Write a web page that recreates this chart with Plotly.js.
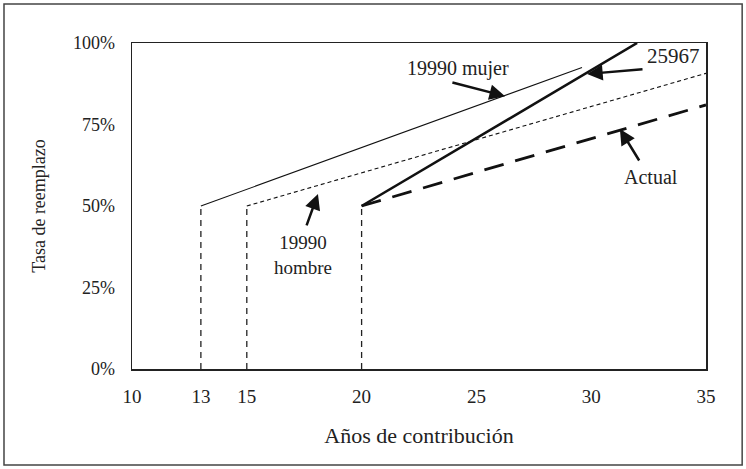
<!DOCTYPE html>
<html>
<head>
<meta charset="utf-8">
<script src="https://cdn.plot.ly/plotly-3.0.1.min.js"></script>
<style>
html,body{margin:0;padding:0;background:#fff;}
#chart{width:746px;height:469px;}
</style>
</head>
<body>
<div id="chart"></div>
<script>
// Data (años de contribución, tasa de reemplazo %)
const mujerX = [13, 29.6];
const mujerY = [50, 92.5];
const hombreX = [15, 35];
const hombreY = [50, 90.7];
const ley25967X = [20, 32];
const ley25967Y = [50, 100];
const actualX = [20, 35];
const actualY = [50, 81];
const verticalX = [13, 15, 20];
const verticalTop = [50, 50, 50];
const xTicks = [10, 13, 15, 20, 25, 30, 35];
const yTicks = [0, 25, 50, 75, 100];

const traces = [];
verticalX.forEach((v, i) => {
  traces.push({x: [v, v], y: [0, verticalTop[i]], mode: 'lines', cliponaxis: false,
    line: {color: '#222', width: 1.3, dash: '6px,5px'}, hoverinfo: 'skip'});
});
traces.push({x: mujerX, y: mujerY, mode: 'lines', cliponaxis: false, line: {color: '#111', width: 1.1}});
traces.push({x: hombreX, y: hombreY, mode: 'lines', cliponaxis: false, line: {color: '#111', width: 1.1, dash: '4px,3px'}});
traces.push({x: ley25967X, y: ley25967Y, mode: 'lines', cliponaxis: false, line: {color: '#111', width: 2.6}});
traces.push({x: actualX, y: actualY, mode: 'lines', cliponaxis: false, line: {color: '#111', width: 2.8, dash: '20px,12px'}});

const font = 'Liberation Serif';
function arrow(hx, hy, tx, ty) {
  return {x: hx, y: hy, ax: tx, ay: ty, xref: 'x', yref: 'y', axref: 'x', ayref: 'y',
    text: '', showarrow: true, arrowhead: 2, arrowsize: 1.25, arrowwidth: 2.5, arrowcolor: '#111', standoff: 0, startstandoff: 0};
}
function label(x, y, t, size) {
  return {x: x, y: y, xref: 'x', yref: 'y', text: t, showarrow: false,
    font: {family: font, size: size || 19, color: '#222'}, align: 'center'};
}

const layout = {
  width: 746, height: 469,
  margin: {l: 132, r: 40, t: 43, b: 100},
  paper_bgcolor: '#fff', plot_bgcolor: '#fff',
  showlegend: false,
  font: {family: font, color: '#222'},
  xaxis: {
    range: [10, 35], tickvals: xTicks, ticktext: xTicks.map(String),
    showgrid: false, zeroline: false, showline: true, linecolor: '#222', linewidth: 1.5, mirror: true,
    ticks: '', ticklabelstandoff: 10,
    tickfont: {family: font, size: 19, color: '#222'},
    title: {text: 'Años de contribución', font: {family: font, size: 22, color: '#222'}, standoff: 21}
  },
  yaxis: {
    range: [0, 100], tickvals: yTicks, ticktext: yTicks.map(v => v + '%'),
    showgrid: false, zeroline: false, showline: true, linecolor: '#222', linewidth: 1.5, mirror: true,
    ticks: '', ticklabelstandoff: 12,
    tickfont: {family: font, size: 18, color: '#222'},
    title: {text: 'Tasa de reemplazo', font: {family: font, size: 18, color: '#222'}, standoff: 22}
  },
  shapes: [{type: 'rect', xref: 'paper', yref: 'paper', x0: -0.223, x1: 1.063, y0: -0.2945, y1: 1.1196,
    line: {color: '#444', width: 1.5}}],
  annotations: [
    label(24.2, 92.3, '19990 mujer', 20),
    arrow(26.25, 83.7, 23.89, 88.0),
    label(33.6, 95.9, '25967', 21),
    arrow(29.82, 90.5, 32.3, 92.0),
    label(32.6, 58.9, 'Actual', 20),
    arrow(31.25, 73.6, 32.13, 63.5),
    label(17.45, 35, '19990<br>hombre', 19),
    arrow(18.1, 53.7, 17.58, 43.6)
  ]
};

Plotly.newPlot('chart', traces, layout, {displayModeBar: false, staticPlot: true});
</script>
</body>
</html>
